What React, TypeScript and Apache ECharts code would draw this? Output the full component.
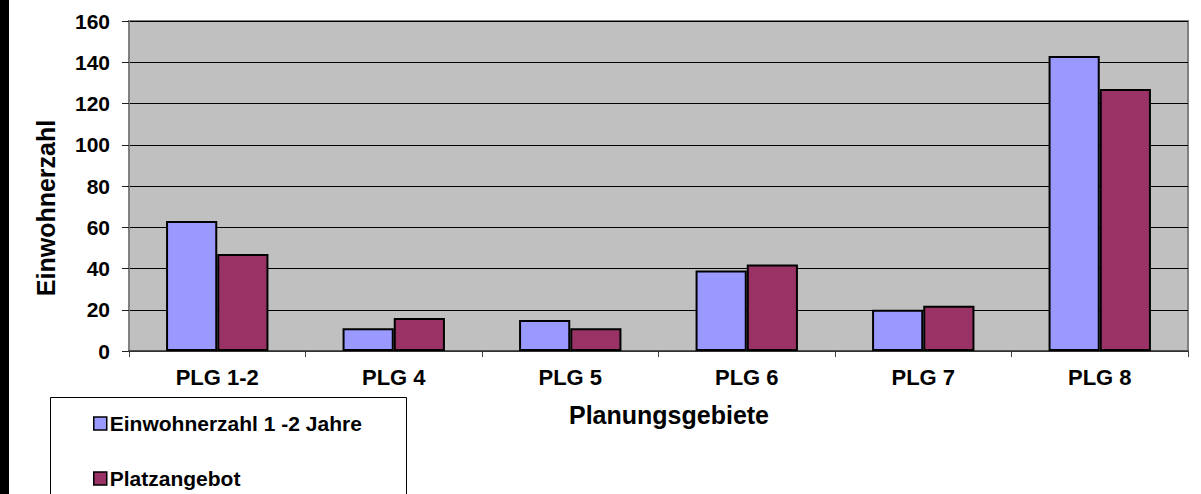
import React, { useEffect, useRef } from "react";
import * as echarts from "echarts";

const categories = ["PLG 1-2", "PLG 4", "PLG 5", "PLG 6", "PLG 7", "PLG 8"];
const einwohnerzahl = [63, 11, 15, 39, 20, 143];
const platzangebot = [47, 16, 11, 42, 22, 127];
const seriesNames = ["Einwohnerzahl 1 -2 Jahre", "Platzangebot"];
const yTitle = "Einwohnerzahl";
const xTitle = "Planungsgebiete";

const FONT = "'Liberation Sans', Arial, sans-serif";

export default function App() {
  const ref = useRef<HTMLDivElement>(null);
  useEffect(() => {
    if (!ref.current) return;
    const chart = echarts.init(ref.current, null, { renderer: "svg" });
    chart.setOption({
      animation: false,
      backgroundColor: "#ffffff",
      textStyle: { fontFamily: FONT },
      grid: {
        left: 129,
        right: 13,
        top: 21,
        bottom: 143,
        show: true,
        backgroundColor: "#C0C0C0",
        borderColor: "#808080",
        borderWidth: 2,
      },
      xAxis: {
        type: "category",
        data: categories,
        axisLine: { show: true, lineStyle: { color: "#404040", width: 1.5 } },
        axisTick: { show: true, length: 6, lineStyle: { color: "#404040" } },
        axisLabel: {
          color: "#000",
          fontWeight: "bold",
          fontSize: 22,
          fontFamily: FONT,
          margin: 15,
        },
        splitLine: { show: false },
      },
      yAxis: {
        type: "value",
        min: 0,
        max: 160,
        interval: 20,
        axisLine: { show: true, lineStyle: { color: "#808080", width: 2 } },
        axisTick: { show: true, length: 7, lineStyle: { color: "#202020" } },
        axisLabel: {
          color: "#000",
          fontWeight: "bold",
          fontSize: 21,
          fontFamily: FONT,
          margin: 19,
        },
        splitLine: { show: true, lineStyle: { color: "#000", width: 1 } },
      },
      legend: {
        orient: "vertical",
        left: 93,
        top: 413,
        padding: 0,
        itemWidth: 13,
        itemHeight: 13,
        itemGap: 34,
        icon: "rect",
        data: seriesNames,
        textStyle: {
          color: "#000",
          fontWeight: "bold",
          fontSize: 21,
          fontFamily: FONT,
          lineHeight: 21,
          padding: [0, 0, 0, -2],
        },
        itemStyle: { borderColor: "#000", borderWidth: 1.5 },
      },
      series: [
        {
          name: seriesNames[0],
          type: "bar",
          data: einwohnerzahl,
          barGap: "0%",
          barCategoryGap: "42%",
          itemStyle: { color: "#9999FF", borderColor: "#000", borderWidth: 2 },
        },
        {
          name: seriesNames[1],
          type: "bar",
          data: platzangebot,
          barGap: "0%",
          barCategoryGap: "42%",
          itemStyle: { color: "#993366", borderColor: "#000", borderWidth: 2 },
        },
      ],
      graphic: [
        {
          type: "rect",
          shape: { x: 0, y: 0, width: 9, height: 494 },
          style: { fill: "#000" },
          z: 100,
        },
        {
          type: "rect",
          shape: { x: 50.5, y: 397.5, width: 356, height: 120 },
          style: { fill: "#fff", stroke: "#000", lineWidth: 1 },
          z: -1,
          silent: true,
        },
        {
          type: "text",
          x: 669,
          y: 415,
          style: {
            text: xTitle,
            fill: "#000",
            font: `bold 25px ${FONT}`,
            textAlign: "center",
            textVerticalAlign: "middle",
          },
        },
        {
          type: "text",
          x: 46,
          y: 208,
          rotation: Math.PI / 2,
          style: {
            text: yTitle,
            fill: "#000",
            font: `bold 25px ${FONT}`,
            textAlign: "center",
            textVerticalAlign: "middle",
          },
        },
      ],
    });
    return () => chart.dispose();
  }, []);
  return (
    <div
      ref={ref}
      style={{ position: "absolute", left: 0, top: 0, width: 1201, height: 494 }}
    />
  );
}
